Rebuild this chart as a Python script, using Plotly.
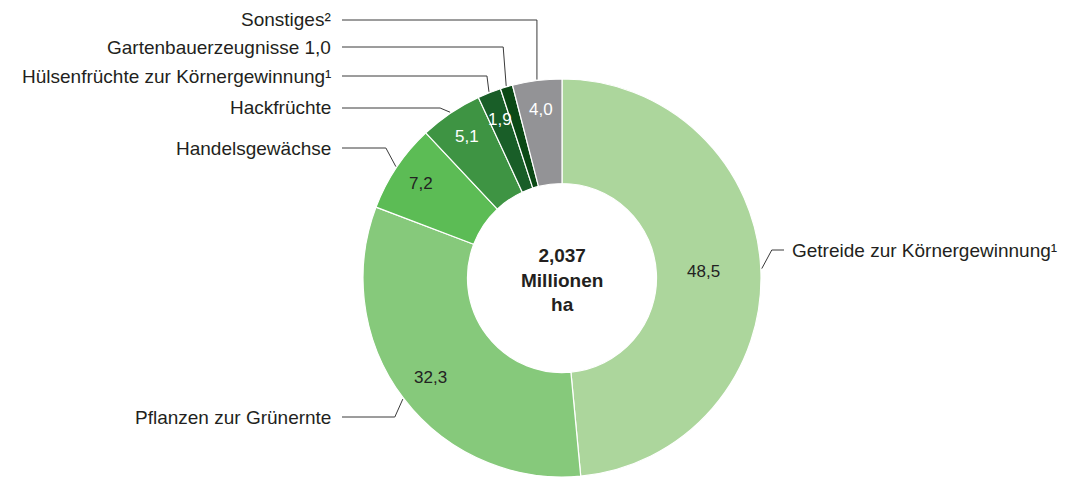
import math
import plotly.graph_objects as go

# ---------------- data ----------------
categories = [
    "Getreide zur Körnergewinnung¹",
    "Pflanzen zur Grünernte",
    "Handelsgewächse",
    "Hackfrüchte",
    "Hülsenfrüchte zur Körnergewinnung¹",
    "Gartenbauerzeugnisse",
    "Sonstiges²",
]
values = [48.5, 32.3, 7.2, 5.1, 1.9, 1.0, 4.0]
value_labels = ["48,5", "32,3", "7,2", "5,1", "1,9", "1,0", "4,0"]
value_inside = [True, True, True, True, True, False, True]
center_label = "<b>2,037<br>Millionen<br>ha</b>"

# ---------------- style ----------------
W, H = 1065, 477
colors = ["#acd69c", "#86c97b", "#5cbc55", "#3e9443", "#195e28", "#0b4915", "#939396"]
inner_text_colors = ["#222222", "#222222", "#222222", "#ffffff", "#ffffff", "#ffffff", "#ffffff"]
inner_text_radius = [0.71, 0.83, 0.855, 0.855, 0.855, 0.855, 0.855]
label_side = ["right", "left", "left", "left", "left", "left", "left"]
label_py = [250, 417, 148, 108, 76, 47, 20]      # label rows (px)
bend_dx = [10, -8, -10, -10, -2, -3, 0]          # leader bend offset (px)
FONT = "Liberation Sans"
LINE_COLOR = "#3a3a3a"
TEXT_COLOR = "#231f20"

cx, cy, R = 562, 278, 199
top = cy - R

fig = go.Figure(go.Pie(
    labels=categories,
    values=values,
    sort=False,
    direction="clockwise",
    rotation=0,
    hole=0.475,
    textinfo="none",
    hoverinfo="label+value",
    marker=dict(colors=colors, line=dict(color="#ffffff", width=1.2)),
    domain=dict(x=[(cx - R - 1) / W, (cx + R + 1) / W], y=[0, 1 - top / H]),
    showlegend=False,
))

def px(x):
    return x / W

def py(y):
    return 1 - y / H

annotations = []
shapes = []
total = sum(values)
cum = 0.0
for i, v in enumerate(values):
    mid = (cum + v / 2) / total * 2 * math.pi
    cum += v
    s, c = math.sin(mid), math.cos(mid)
    # inner value label
    if value_inside[i]:
        r = inner_text_radius[i] * R
        annotations.append(dict(
            x=px(cx + r * s), y=py(cy - r * c), xref="paper", yref="paper",
            text=value_labels[i], showarrow=False,
            font=dict(family=FONT, size=17, color=inner_text_colors[i]),
            xanchor="center", yanchor="middle",
        ))
    # leader line
    x0, y0 = cx + (R + 1) * s, cy - (R + 1) * c
    x1, y1 = x0 + bend_dx[i], label_py[i]
    if label_side[i] == "left":
        x2 = 342
        tx, anchor = 333, "right"
    else:
        x2 = 784
        tx, anchor = 790, "left"
    shapes.append(dict(
        type="path", xref="paper", yref="paper",
        path=f"M {px(x0)},{py(y0)} L {px(x1)},{py(y1)} L {px(x2)},{py(y1)}",
        line=dict(color=LINE_COLOR, width=1),
    ))
    text = categories[i] if value_inside[i] else f"{categories[i]} {value_labels[i]}"
    annotations.append(dict(
        x=px(tx), y=py(label_py[i]), xref="paper", yref="paper",
        text=text, showarrow=False,
        font=dict(family=FONT, size=19, color=TEXT_COLOR),
        xanchor=anchor, yanchor="middle",
    ))

annotations.append(dict(
    x=px(cx), y=py(cy + 2), xref="paper", yref="paper",
    text=center_label, showarrow=False,
    font=dict(family=FONT, size=19, color=TEXT_COLOR),
    xanchor="center", yanchor="middle",
))

fig.update_layout(
    width=W, height=H,
    margin=dict(l=0, r=0, t=0, b=0),
    paper_bgcolor="#ffffff",
    plot_bgcolor="#ffffff",
    annotations=annotations,
    shapes=shapes,
)

fig.write_html(
    "out.html",
    config={"displayModeBar": False},
    post_script="document.body.style.margin='0';document.body.style.overflow='hidden';",
)
